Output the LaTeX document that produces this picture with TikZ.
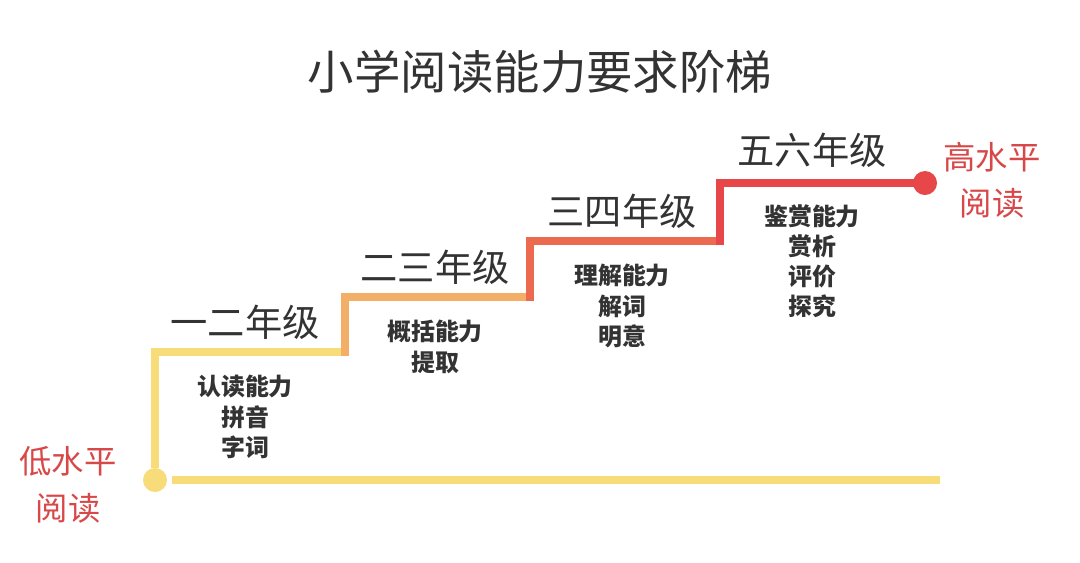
\documentclass[tikz,border=0pt]{standalone}
\usepackage{fontspec}
\newfontfamily\cjk{Noto Sans CJK SC}
\definecolor{yl}{HTML}{F8DC7A}
\definecolor{og}{HTML}{F3AE68}
\definecolor{rd}{HTML}{EC6A50}
\definecolor{rr}{HTML}{E8474A}
\definecolor{tx}{HTML}{333333}
\definecolor{lab}{HTML}{D94848}
\tikzset{
  grade/.style={font=\cjk\fontsize{26.5}{30}\selectfont, text=tx, inner sep=0},
  skill/.style={font=\cjk\bfseries\fontsize{17}{21.5}\selectfont, text=tx, align=center, inner sep=0},
  lvl/.style={font=\cjk\fontsize{23}{33}\selectfont, text=lab, align=center, inner sep=0},
  seg/.style={line width=8*0.025cm, line cap=butt, line join=miter}
}
\begin{document}
\begin{tikzpicture}[x=0.025cm,y=-0.025cm]
\useasboundingbox (0,0) rectangle (1080,562);
\fill[white] (0,0) rectangle (1080,562);
\node[font=\cjk\fontsize{33}{36}\selectfont, text=tx] (title) at (540,72) {小学阅读能力要求阶梯};
\coordinate (d0) at (155,480);
\coordinate (d1) at (925,183);
\coordinate (e) at (940,480);
\draw[seg, yl] (172,480) -- (e);
\draw[seg, yl] (155,468) -- (155,352) -- (345,352);
\draw[seg, og] (345,356) -- (345,297) -- (530,297);
\draw[seg, rd] (530,301) -- (530,241) -- (720,241);
\draw[seg, rr] (720,245) -- (720,183) -- (915,183);
\fill[yl] (d0) circle (12);
\fill[rr] (d1) circle (12);
\node[grade] (g1) at (245,322) {一二年级};
\node[grade] (g2) at (435,267) {二三年级};
\node[grade] (g3) at (622,211) {三四年级};
\node[grade] (g4) at (812,150) {五六年级};
\node[skill, anchor=north] (s1) at (245,375) {认读能力\\拼音\\字词};
\node[skill, anchor=north] (s2) at (435,320) {概括能力\\提取};
\node[skill, anchor=north] (s3) at (622,264) {理解能力\\解词\\明意};
\node[skill, anchor=north] (s4) at (812,204) {鉴赏能力\\赏析\\评价\\探究};
\node[lvl] (lo) at (68,485) {低水平\\阅读};
\node[lvl] (hi) at (992,180) {高水平\\阅读};
\end{tikzpicture}
\end{document}
